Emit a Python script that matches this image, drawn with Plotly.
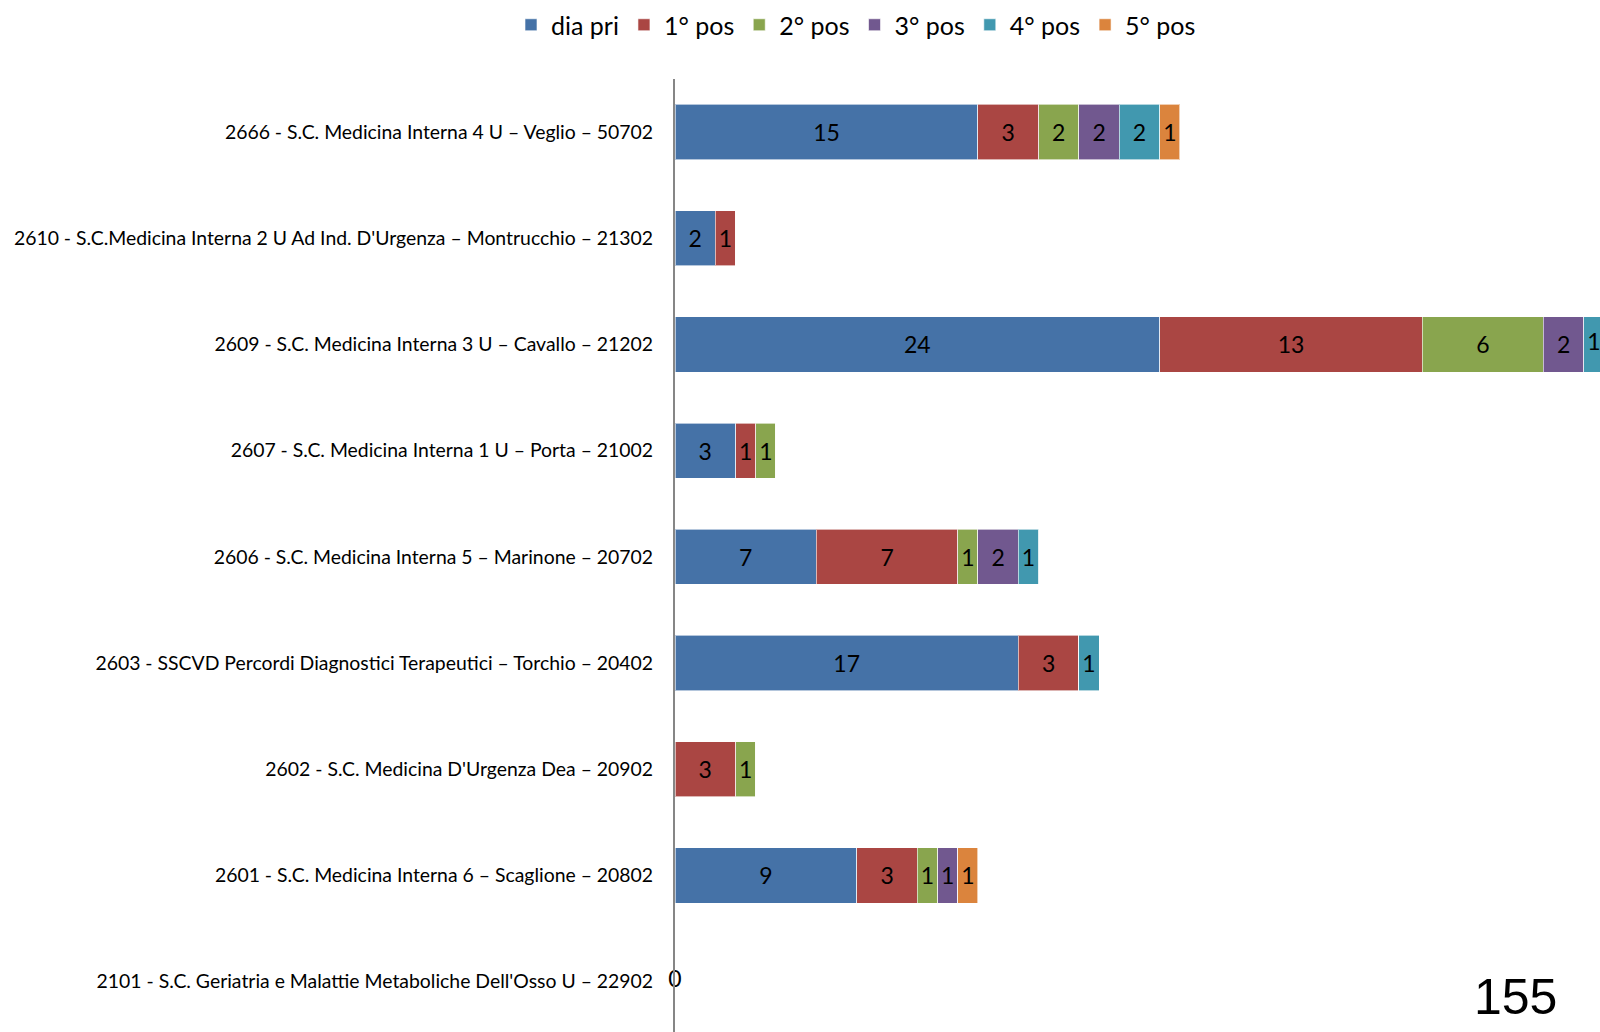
import plotly.graph_objects as go

categories = [
    "2666 - S.C. Medicina Interna 4 U – Veglio – 50702",
    "2610 - S.C.Medicina Interna 2 U Ad Ind. D'Urgenza – Montrucchio – 21302",
    "2609 - S.C. Medicina Interna 3 U – Cavallo – 21202",
    "2607 - S.C. Medicina Interna 1 U – Porta – 21002",
    "2606 - S.C. Medicina Interna 5 – Marinone – 20702",
    "2603 - SSCVD Percordi Diagnostici Terapeutici – Torchio – 20402",
    "2602 - S.C. Medicina D'Urgenza Dea – 20902",
    "2601 - S.C. Medicina Interna 6 – Scaglione – 20802",
    "2101 - S.C. Geriatria e Malattie Metaboliche Dell'Osso U – 22902",
]

series_names = ["dia pri", "1° pos", "2° pos", "3° pos", "4° pos", "5° pos"]
dia_pri = [15, 2, 24, 3, 7, 17, 0, 9, 0]
pos1 = [3, 1, 13, 1, 7, 3, 3, 3, 0]
pos2 = [2, 0, 6, 1, 1, 0, 1, 1, 0]
pos3 = [2, 0, 2, 0, 2, 0, 0, 1, 0]
pos4 = [2, 0, 1, 0, 1, 1, 0, 0, 0]
pos5 = [1, 0, 0, 0, 0, 0, 0, 1, 0]
total_label = "155"

series_values = [dia_pri, pos1, pos2, pos3, pos4, pos5]
colors = ["#4572A7", "#AA4643", "#89A54E", "#71588F", "#4198AF", "#DB843D"]

FONT = "Lato"
W, H = 1600, 1032
L, T = 675, 79
XMAX = 45.8

fig = go.Figure()
for name, vals, col in zip(series_names, series_values, colors):
    fig.add_trace(go.Bar(
        y=categories, x=vals, name=name, orientation="h",
        marker=dict(color=col, line=dict(color="rgba(255,255,255,0.6)", width=1)),
        text=[str(v) if v > 0 else "" for v in vals],
        textposition="inside", insidetextanchor="middle",
        textfont=dict(family=FONT, size=23, color="black"),
        textangle=0, constraintext="none",
        width=0.52,
        hoverinfo="x+y+name",
    ))

# labels for segments that run past the visible axis range (clipped bars)
clip_x, clip_y, clip_t = [], [], []
for i, cat in enumerate(categories):
    start = 0
    for vals in series_values:
        v = vals[i]
        if v > 0 and start + v > XMAX:
            clip_x.append(start + v / 2)
            clip_y.append(cat)
            clip_t.append(str(v))
        start += v
fig.add_trace(go.Scatter(
    y=clip_y, x=clip_x, mode="text", text=clip_t, textposition="middle center",
    textfont=dict(family=FONT, size=23, color="black"),
    showlegend=False, hoverinfo="skip", cliponaxis=False,
))

# zero label for the empty row
zero_cats = [c for c, *vals in zip(categories, *series_values) if sum(vals) == 0]
fig.add_trace(go.Scatter(
    y=zero_cats, x=[0] * len(zero_cats), mode="text",
    text=["0"] * len(zero_cats), textposition="middle center",
    textfont=dict(family=FONT, size=23, color="black"),
    showlegend=False, hoverinfo="skip", cliponaxis=False,
))

fig.update_layout(
    width=W, height=H,
    barmode="stack",
    plot_bgcolor="white", paper_bgcolor="white",
    margin=dict(l=L, r=0, t=T, b=0),
    font=dict(family=FONT, color="black"),
    legend=dict(
        orientation="h", xref="container", yref="container",
        x=856 / W, xanchor="center", y=1 - 25 / H, yanchor="middle",
        font=dict(family=FONT, size=25), itemwidth=30, traceorder="normal",
        itemclick=False,
    ),
    xaxis=dict(range=[0, XMAX], showticklabels=False, showgrid=False,
               zeroline=False, showline=False, ticks="", fixedrange=True),
    yaxis=dict(categoryorder="array", categoryarray=categories[::-1],
               showline=True, linecolor="#868686", linewidth=2,
               showgrid=False, ticks="", ticklabelstandoff=16,
               tickfont=dict(family=FONT, size=19.4, color="black"),
               range=[-0.474, 8.5], fixedrange=True),
    annotations=[dict(
        text=total_label, xref="paper", yref="paper",
        x=(1515 - L) / (W - L), y=1 - (997 - T) / (H - T),
        showarrow=False, xanchor="center", yanchor="middle",
        font=dict(family="Liberation Sans", size=50, color="black"),
    )],
)

fig.write_html(
    "out.html",
    config={"displayModeBar": False},
    post_script="document.body.style.margin='0';document.body.style.overflow='hidden';",
)
